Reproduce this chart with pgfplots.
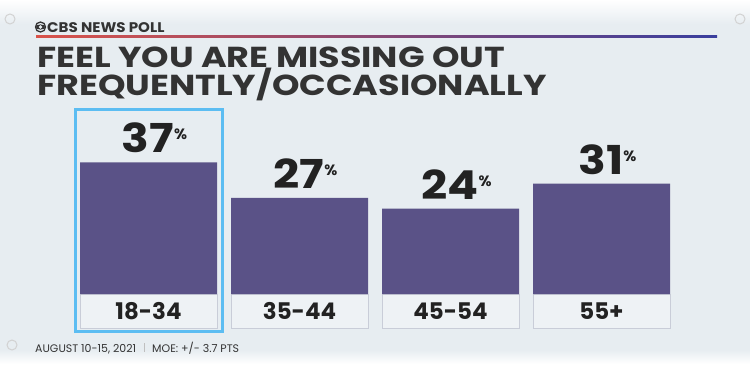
\documentclass[border=0pt]{standalone}
\usepackage{pgfplots}
\pgfplotsset{compat=1.18}
\usepackage{fontspec}
\setmainfont{Poppins}
\usetikzlibrary{shadings}
\definecolor{bgc}{HTML}{E7EDF1}
\definecolor{barc}{HTML}{5A5287}
\definecolor{boxfill}{HTML}{EEF2F5}
\definecolor{boxline}{HTML}{C9CDD8}
\definecolor{hl}{HTML}{5CBDF2}
\definecolor{txt}{HTML}{222222}
\definecolor{ttl}{HTML}{333333}
\definecolor{lred}{HTML}{D9534A}
\definecolor{lblue}{HTML}{3A3F9E}
\begin{document}
\begin{tikzpicture}[x=1bp,y=1bp]
\useasboundingbox (0,0) rectangle (750,364);
\fill[bgc] (0,0) rectangle (750,364);
\fill[top color=white, bottom color=bgc] (0,340) rectangle (750,364);
\fill[bottom color=white, top color=bgc] (0,0) rectangle (750,14);
\draw[gray!35, line width=1bp] (10,345) circle (5);
\draw[gray!35, line width=1bp] (740,345) circle (5);
\draw[gray!35, line width=1bp] (12,19) circle (5);
% header
\draw[ttl, line width=1.3bp] (40.5,337) circle (5);
\fill[ttl] (40.5,337) ellipse (4.6 and 2.6);
\fill[bgc] (40.5,337) circle (1.8);
\node[anchor=base west, inner sep=0, text=ttl] at (47,332) {\scalebox{1.08}[1]{\fontsize{14}{14}\selectfont\bfseries CBS NEWS POLL}};
\shade[left color=lred, right color=lblue] (36,326.5) rectangle (717,328.5);
\node[anchor=north west, inner sep=0, text=ttl, align=left] at (37,317) {\scalebox{1.21}[1]{\fontsize{29}{26}\selectfont\bfseries\begin{tabular}{@{}l@{}}FEEL YOU ARE MISSING OUT\\[-7bp] FREQUENTLY/OCCASIONALLY\end{tabular}}};
\begin{axis}[
  at={(73bp,70bp)}, anchor=south west, scale only axis,
  width=604bp, height=178bp,
  xmin=-0.5, xmax=3.5, ymin=0, ymax=50,
  axis line style={draw=none}, tick style={draw=none},
  major tick length=0pt,
  ytick=\empty, xtick=data,
  xticklabels={18-34,35-44,45-54,55+},
  xticklabel style={anchor=north, draw=boxline, fill=boxfill, minimum width=137bp, minimum height=34bp, inner sep=0pt, text=txt, font=\fontsize{23}{23}\selectfont\bfseries},
  ybar, bar width=137bp, bar shift=0pt,
  /pgf/number format/assume math mode=true,
  nodes near coords={\scalebox{1.15}[1]{\fontsize{40}{40}\selectfont\bfseries\pgfmathprintnumber{\pgfplotspointmeta}}\raisebox{13bp}{\fontsize{15}{15}\selectfont\bfseries\%}},
  nodes near coords style={text=txt, anchor=south, inner sep=0pt, yshift=9bp, xshift=6bp},
  clip=false,
]
\addplot[fill=barc, draw=none] coordinates {(0,37) (1,27) (2,24) (3,31)};
\end{axis}
\draw[hl, line width=3bp] (75.5,32.5) rectangle (222.5,254.5);
\node[anchor=base west, inner sep=0, text=ttl] at (35,12) {\fontsize{11}{11}\selectfont AUGUST 10-15, 2021};
\fill[gray!50] (144,12) rectangle (145,21);
\node[anchor=base west, inner sep=0, text=ttl] at (152,12) {\fontsize{11}{11}\selectfont MOE: +/- 3.7 PTS};
\end{tikzpicture}
\end{document}
